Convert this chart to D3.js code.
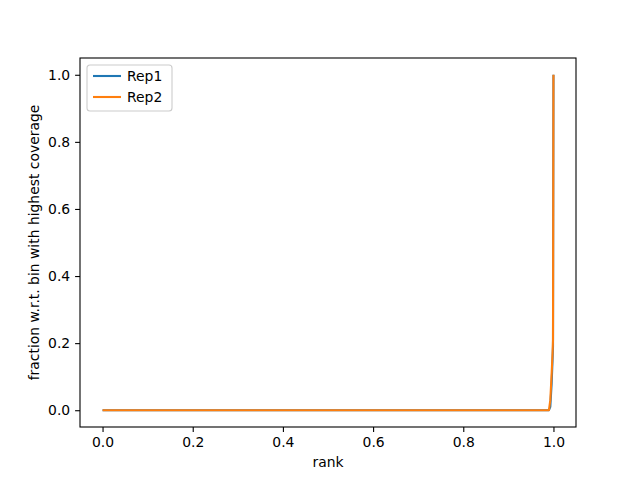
<!DOCTYPE html>
<html><head><meta charset="utf-8">
<script src="https://cdn.jsdelivr.net/npm/d3@7"></script>
<style>body{margin:0;background:#fff}svg{font-family:"DejaVu Sans",sans-serif}</style>
</head><body><svg id="c" width="640" height="480"></svg>
<script>
const rank = [0, 0.1, 0.2, 0.3, 0.4, 0.5, 0.6, 0.7, 0.8, 0.9, 0.95, 0.98, 0.99, 0.993, 0.996, 0.998, 0.999, 1.0];
const rep1 = [0, 0, 0, 0, 0, 0, 0, 0, 0, 0, 0, 0, 0, 0.01, 0.08, 0.15, 0.19, 1.0];
const rep2 = [0, 0, 0, 0, 0, 0, 0, 0, 0, 0, 0, 0, 0, 0.03, 0.11, 0.17, 0.21, 1.0];
const seriesNames = ["Rep1", "Rep2"];
const colors = ["#1f77b4", "#ff7f0e"];
const ticks = [0, 0.2, 0.4, 0.6, 0.8, 1.0];

const svg = d3.select("#c");
const L = 80, R = 576, T = 58, B = 427;
const FS = 13.9;
const x = d3.scaleLinear().domain([-0.05, 1.05]).range([L, R]);
const y = d3.scaleLinear().domain([-0.05, 1.05]).range([B, T]);

const fmt = d3.format(".1f");
const xa = svg.append("g").attr("transform", `translate(0,${B})`)
  .call(d3.axisBottom(x).tickValues(ticks).tickFormat(fmt).tickSize(4.9).tickPadding(4.9));
const ya = svg.append("g").attr("transform", `translate(${L},0)`)
  .call(d3.axisLeft(y).tickValues(ticks).tickFormat(fmt).tickSize(4.9).tickPadding(4.9));
[xa, ya].forEach(a => {
  a.select(".domain").remove();
  a.selectAll("text").attr("font-size", FS).attr("fill", "#000").attr("font-family", "DejaVu Sans");
  a.selectAll("line").attr("stroke", "#000").attr("stroke-width", 1.1);
});

const line = d3.line().x((d, i) => x(rank[i])).y(d => y(d));
[rep1, rep2].forEach((s, k) => {
  svg.append("path").datum(s).attr("d", line).attr("fill", "none")
    .attr("stroke", colors[k]).attr("stroke-width", 2.1).attr("stroke-linejoin", "round");
});

svg.append("rect").attr("x", L).attr("y", T).attr("width", R - L).attr("height", B - T)
  .attr("fill", "none").attr("stroke", "#000").attr("stroke-width", 1.1);

svg.append("text").attr("x", (L + R) / 2).attr("y", 467).attr("text-anchor", "middle")
  .attr("font-size", FS).text("rank");
svg.append("text").attr("transform", `translate(39,${(T + B) / 2}) rotate(-90)`)
  .attr("text-anchor", "middle").attr("font-size", FS).text("fraction w.r.t. bin with highest coverage");

const lg = svg.append("g").attr("transform", `translate(87,65)`);
lg.append("rect").attr("width", 85).attr("height", 46).attr("rx", 3)
  .attr("fill", "#fff").attr("fill-opacity", 0.8).attr("stroke", "#ccc").attr("stroke-width", 1.1);
seriesNames.forEach((n, i) => {
  const yy = 11 + i * 21;
  lg.append("line").attr("x1", 6).attr("x2", 34).attr("y1", yy).attr("y2", yy)
    .attr("stroke", colors[i]).attr("stroke-width", 2.1);
  lg.append("text").attr("x", 40).attr("y", yy + 5).attr("font-size", FS).text(n);
});
</script></body></html>
